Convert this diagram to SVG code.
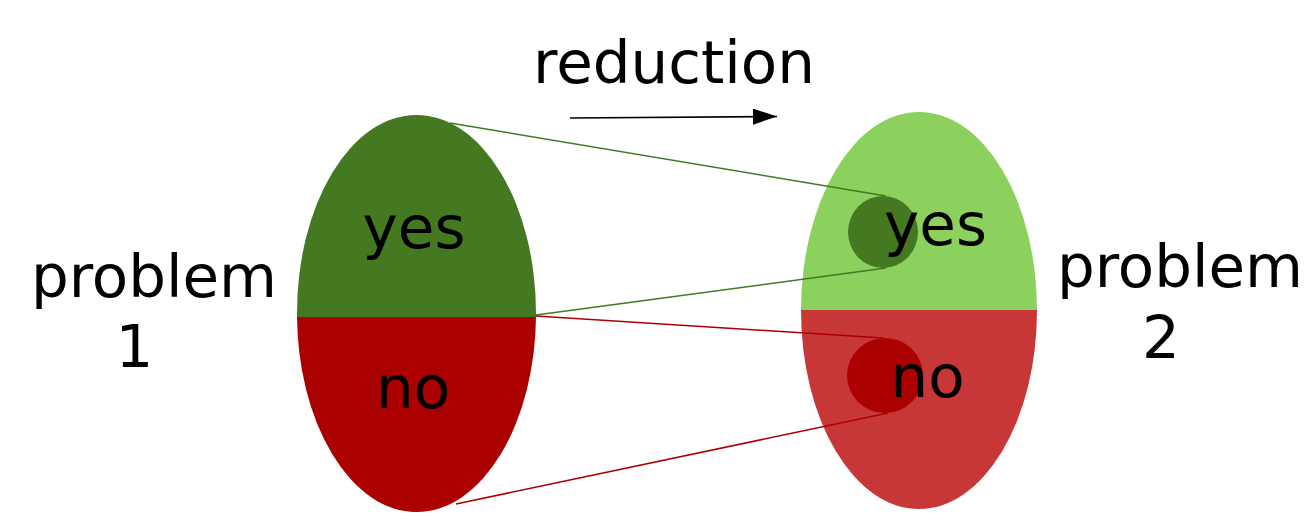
<svg xmlns="http://www.w3.org/2000/svg" width="1309" height="513" viewBox="0 0 1309 513">
<style>
text{font-family:"DejaVu Sans","Liberation Sans",sans-serif;font-size:59.5px;fill:#000;text-anchor:middle}
.cg{stroke:#447821;stroke-width:1.5;fill:none}
.cr{stroke:#aa0000;stroke-width:1.5;fill:none}
</style>
<defs>
<clipPath id="lt"><rect x="290" y="100" width="260" height="217"/></clipPath>
<clipPath id="lb"><rect x="290" y="317" width="260" height="200"/></clipPath>
<clipPath id="rt"><rect x="790" y="100" width="260" height="210"/></clipPath>
<clipPath id="rb"><rect x="790" y="310" width="260" height="210"/></clipPath>
<marker id="ah" viewBox="0 0 24 16" refX="24" refY="8" markerWidth="24" markerHeight="16" markerUnits="userSpaceOnUse" orient="auto"><path d="M0,0 L24,8 L0,16 Z" fill="#000"/></marker>
</defs>
<g id="problem1">
<ellipse cx="416.5" cy="313.5" rx="119.5" ry="198.5" fill="#447821" clip-path="url(#lt)"/>
<ellipse cx="416.5" cy="313.5" rx="119.5" ry="198.5" fill="#aa0000" clip-path="url(#lb)"/>
<text x="414" y="248">yes</text>
<text x="413" y="408">no</text>
</g>
<g id="problem2">
<ellipse cx="919" cy="310.5" rx="118" ry="198.5" fill="#8cd05e" clip-path="url(#rt)"/>
<ellipse cx="919" cy="310.5" rx="118" ry="198.5" fill="#c83737" clip-path="url(#rb)"/>
<ellipse cx="883" cy="232" rx="35" ry="36" fill="#447821"/>
<ellipse cx="885" cy="375.5" rx="38" ry="37.5" fill="#aa0000"/>
<text x="935.5" y="245">yes</text>
<text x="927.5" y="397">no</text>
</g>
<g id="label1">
<text x="154" y="297">problem</text>
<text x="134.5" y="367">1</text>
</g>
<g id="label2">
<text x="1180" y="287">problem</text>
<text x="1161" y="358">2</text>
</g>
<g id="reduction">
<text x="674" y="83">reduction</text>
</g>
<g id="connectors">
<line x1="570" y1="118" x2="777" y2="116.5" stroke="#000" stroke-width="1.6" marker-end="url(#ah)"/>
<line class="cg" x1="450" y1="123" x2="886" y2="196"/>
<line class="cg" x1="536" y1="315" x2="886" y2="268"/>
<line class="cr" x1="536" y1="316" x2="883" y2="338"/>
<line class="cr" x1="456" y1="504" x2="888" y2="413"/>
</g>
</svg>
